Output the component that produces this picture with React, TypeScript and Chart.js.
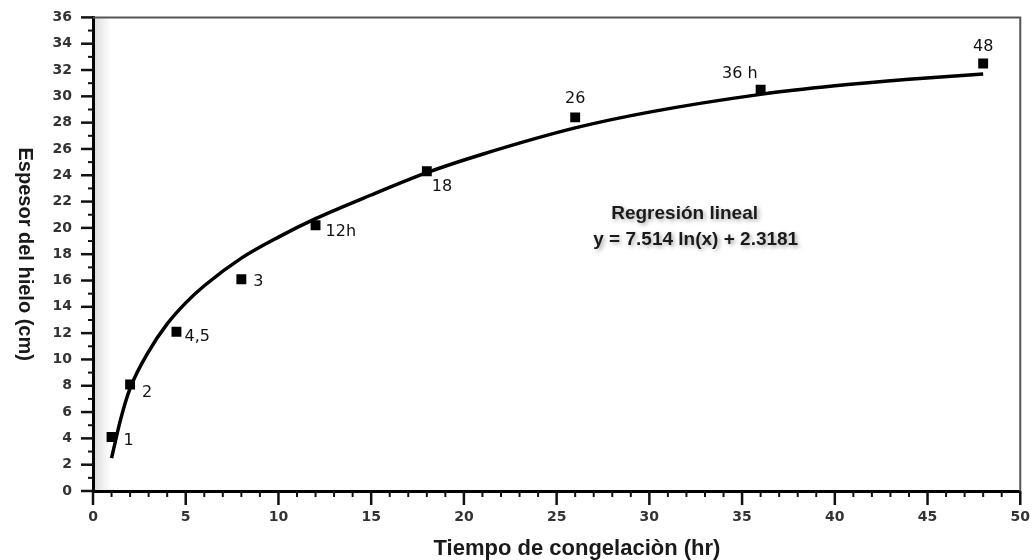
import React, { useEffect, useRef } from "react";
import { Chart, registerables } from "chart.js";

Chart.register(...registerables);

// Measured points (hours, cm) and their printed labels
const pointHours = [1, 2, 4.5, 8, 12, 18, 26, 36, 48];
const pointThickness = [4.1, 8.1, 12.1, 16.1, 20.2, 24.3, 28.4, 30.5, 32.5];
const pointLabels = ["1", "2", "4,5", "3", "12h", "18", "26", "36 h", "48"];

// Regression curve
const curveHours = [1, 1.5, 2, 3, 4, 5, 6, 8, 10, 12, 15, 18, 21, 26, 30, 36, 40, 44, 48];
const curveThickness = [2.5, 5.5, 7.8, 10.6, 12.7, 14.3, 15.6, 17.7, 19.3, 20.7, 22.5, 24.2, 25.6, 27.6, 28.8, 30.15, 30.8, 31.3, 31.7];

// Axes
const xMin = 0;
const xMax = 50;
const xMajorStep = 5;
const yMin = 0;
const yMax = 36;
const yMajorStep = 2;

const xTitle = "Tiempo de congelaciòn (hr)";
const yTitle = "Espesor del hielo (cm)";
const noteLines = ["Regresión lineal", "y = 7.514 ln(x) + 2.3181"];
// note anchors in data units (x, y) for each line
const noteX = [31.9, 32.5];
const noteY = [21.1, 19.1];

// label placement relative to each point (px)
const labelDx = [12, 12, 8, 12, 10, 5, 0, -3, 0];
const labelDy = [4, 8, 5, 3, 7, 16, -19, -16, -17];
const labelAlign: CanvasTextAlign[] = ["left", "left", "left", "left", "left", "left", "center", "right", "center"];

const decorPlugin = {
  id: "decor",
  beforeDatasetsDraw(chart: any) {
    const { ctx, chartArea } = chart;
    const g = ctx.createLinearGradient(chartArea.left, 0, chartArea.left + 18, 0);
    g.addColorStop(0, "rgba(0,0,0,0.14)");
    g.addColorStop(1, "rgba(0,0,0,0)");
    ctx.save();
    ctx.fillStyle = g;
    ctx.fillRect(chartArea.left, chartArea.top, 18, chartArea.bottom - chartArea.top);
    ctx.restore();
  },
  afterDraw(chart: any) {
    const { ctx, chartArea, scales } = chart;
    const xs = scales.x;
    const ys = scales.y;
    ctx.save();
    // top and right frame
    ctx.strokeStyle = "#555";
    ctx.lineWidth = 2;
    ctx.beginPath();
    ctx.moveTo(chartArea.left, chartArea.top);
    ctx.lineTo(chartArea.right, chartArea.top);
    ctx.lineTo(chartArea.right, chartArea.bottom);
    ctx.stroke();

    // tick marks
    ctx.strokeStyle = "#111";
    for (let v = yMin; v <= yMax; v += 1) {
      const y = ys.getPixelForValue(v);
      const major = v % yMajorStep === 0;
      ctx.lineWidth = major ? 2.5 : 2;
      ctx.beginPath();
      ctx.moveTo(chartArea.left - (major ? 12 : 5), y);
      ctx.lineTo(chartArea.left, y);
      ctx.stroke();
    }
    for (let v = xMin; v <= xMax; v += 1) {
      const x = xs.getPixelForValue(v);
      const major = v % xMajorStep === 0;
      ctx.lineWidth = major ? 2.5 : 2;
      ctx.beginPath();
      ctx.moveTo(x, chartArea.bottom);
      ctx.lineTo(x, chartArea.bottom + (major ? 14 : 6));
      ctx.stroke();
    }

    // axis titles
    ctx.fillStyle = "#1a1a1a";
    ctx.font = 'bold 20px "Liberation Sans", Arial, sans-serif';
    ctx.textAlign = "center";
    ctx.textBaseline = "middle";
    ctx.save();
    ctx.translate(25, (chartArea.top + chartArea.bottom) / 2);
    ctx.rotate(Math.PI / 2);
    ctx.fillText(yTitle, 0, 0);
    ctx.restore();

    ctx.font = 'bold 22px "Liberation Sans", Arial, sans-serif';
    ctx.textBaseline = "alphabetic";
    ctx.fillText(xTitle, 577, 555);

    // point labels
    const meta = chart.getDatasetMeta(1);
    ctx.font = '16px "DejaVu Sans", sans-serif';
    ctx.fillStyle = "#111";
    ctx.textBaseline = "middle";
    meta.data.forEach((el: any, i: number) => {
      ctx.textAlign = labelAlign[i];
      ctx.fillText(pointLabels[i], el.x + labelDx[i], el.y + labelDy[i]);
    });

    // regression note
    ctx.font = 'bold 19px "Liberation Sans", Arial, sans-serif';
    ctx.textAlign = "center";
    ctx.textBaseline = "middle";
    ctx.shadowColor = "rgba(0,0,0,0.35)";
    ctx.shadowBlur = 4;
    ctx.shadowOffsetX = 2;
    ctx.shadowOffsetY = 2;
    ctx.fillStyle = "#1a1a1a";
    noteLines.forEach((t, i) => {
      ctx.fillText(t, xs.getPixelForValue(noteX[i]), ys.getPixelForValue(noteY[i]));
    });
    ctx.restore();
  },
};

export default function App() {
  const ref = useRef<HTMLCanvasElement | null>(null);
  useEffect(() => {
    if (!ref.current) return;
    const tickFont = { family: '"DejaVu Sans", sans-serif', size: 14, weight: "bold" as const };
    const chart = new Chart(ref.current, {
      type: "scatter",
      data: {
        datasets: [
          {
            type: "line",
            label: "Regresión",
            data: curveHours.map((x, i) => ({ x, y: curveThickness[i] })),
            borderColor: "#000",
            borderWidth: 3.5,
            pointRadius: 0,
            cubicInterpolationMode: "monotone",
            fill: false,
          },
          {
            type: "scatter",
            label: "Datos",
            data: pointHours.map((x, i) => ({ x, y: pointThickness[i] })),
            pointStyle: "rect",
            pointRadius: 7,
            backgroundColor: "#000",
            borderColor: "#000",
            borderWidth: 0,
          },
        ],
      },
      options: {
        animation: false,
        responsive: false,
        maintainAspectRatio: false,
        layout: { padding: { top: 16, right: 10, left: 0, bottom: 0 } },
        plugins: { legend: { display: false }, tooltip: { enabled: false } },
        scales: {
          x: {
            type: "linear",
            min: xMin,
            max: xMax,
            ticks: { stepSize: xMajorStep, font: tickFont, color: "#333", padding: 6, maxRotation: 0 },
            grid: { display: true, drawOnChartArea: false, color: "transparent", tickLength: 12 },
            border: { display: true, color: "#000", width: 3 },
            afterFit: (s: any) => { s.height = 69; },
          },
          y: {
            type: "linear",
            min: yMin,
            max: yMax,
            ticks: { stepSize: yMajorStep, font: tickFont, color: "#333", padding: 9 },
            grid: { display: true, drawOnChartArea: false, color: "transparent", tickLength: 12 },
            border: { display: true, color: "#000", width: 3 },
            afterFit: (s: any) => { s.width = 93; },
          },
        },
      } as any,
      plugins: [decorPlugin],
    });
    return () => chart.destroy();
  }, []);
  return (
    <div style={{ position: "fixed", left: 0, top: 0, width: 1036, height: 560, background: "#fff" }}>
      <canvas ref={ref} width={1036} height={560} style={{ width: 1036, height: 560, display: "block" }} />
    </div>
  );
}
